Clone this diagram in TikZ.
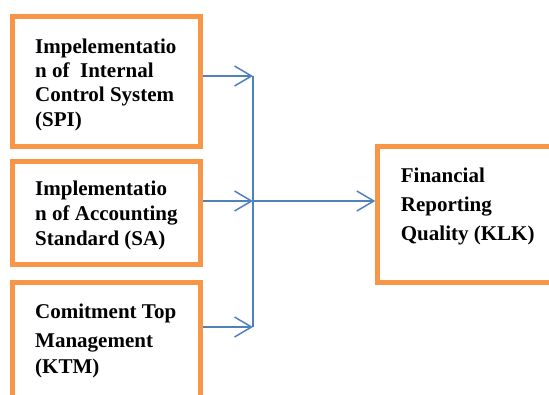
\documentclass[tikz,border=0pt]{standalone}
\usepackage{fontspec}
\setmainfont{Liberation Serif}
\usetikzlibrary{arrows.meta}
\definecolor{boxorange}{HTML}{F79646}
\definecolor{linkblue}{HTML}{4F81BD}
\tikzset{
  varbox/.style={draw=boxorange, line width=5pt, fill=white, rectangle, inner sep=0pt},
  txt/.style={anchor=base west, inner sep=0pt, font=\fontsize{21}{24}\selectfont\bfseries},
  link/.style={draw=linkblue, line width=1.5pt, -{Straight Barb[length=17pt,width=20pt,line width=1.5pt]}},
  plain/.style={draw=linkblue, line width=1.5pt}
}
\begin{document}
\begin{tikzpicture}[x=1pt,y=-1pt]
\useasboundingbox (0,0) rectangle (549,394);
\clip (0,0) rectangle (549,394);
% boxes
\node[varbox, minimum width=188.3pt, minimum height=130pt] (b1) at ({(12.5+200.8)/2},{(16.7+146.7)/2}) {};
\node[varbox, minimum width=188.3pt, minimum height=102.8pt] (b2) at ({(12.5+200.8)/2},{(161.7+264.5)/2}) {};
\node[varbox, minimum width=188.3pt, minimum height=150pt] (b3) at ({(12.5+200.8)/2},{282.2+75}) {};
\node[varbox, minimum width=200pt, minimum height=135.5pt] (b4) at ({377.8+100},{(146.7+282.2)/2}) {};
% texts
\node[txt] (t1a) at (35,53.5) {Impelementatio};
\node[txt] (t1b) at (35,77.5) {n of\ \ Internal};
\node[txt] (t1c) at (35,101.5) {Control System};
\node[txt] (t1d) at (35,126) {(SPI)};
\node[txt] (t2a) at (35,195) {Implementatio};
\node[txt] (t2b) at (35,220) {n of Accounting};
\node[txt] (t2c) at (35,245) {Standard (SA)};
\node[txt] (t3a) at (35,318.3) {Comitment Top};
\node[txt] (t3b) at (35,347.3) {Management};
\node[txt] (t3c) at (35,373.3) {(KTM)};
\node[txt] (t4a) at (400.7,182.7) {Financial};
\node[txt] (t4b) at (400.7,211.7) {Reporting};
\node[txt] (t4c) at (400.7,240) {Quality (KLK)};
% junction points
\coordinate (j1) at (253,76);
\coordinate (j2) at (253,201);
\coordinate (j3) at (253,327);
% connectors
\draw[plain] (j1) -- (j3);
\draw[link] (b1.east |- j1) -- (j1);
\draw[link] (b2.east |- j2) -- (j2);
\draw[link] (b3.east |- j3) -- (j3);
\draw[link] (j2) -- (b4.west |- j2);
\end{tikzpicture}
\end{document}
